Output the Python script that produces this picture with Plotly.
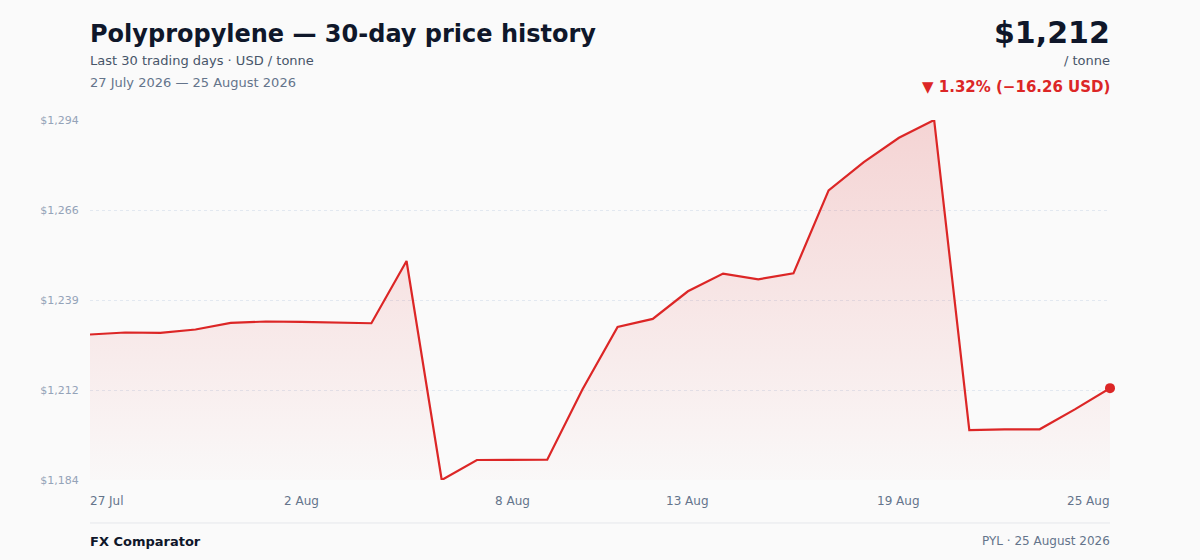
import pandas as pd
import plotly.graph_objects as go

# daily price, USD / tonne, 27 Jul 2026 .. 25 Aug 2026
dates = pd.date_range("2026-07-27", periods=30, freq="D")
prices = [
    1228.56, 1229.17, 1229.05, 1230.08, 1232.08, 1232.50, 1232.38, 1232.29, 1231.98, 1250.85,
    1184.45, 1190.51, 1190.55, 1190.60, 1211.91, 1230.86, 1233.29, 1241.67, 1247.03, 1245.31,
    1247.10, 1272.25, 1280.82, 1288.21, 1293.60, 1199.59, 1199.80, 1199.82, 1205.86, 1212.30,
]
tick_dates = ["2026-07-27", "2026-08-02", "2026-08-08", "2026-08-13", "2026-08-19", "2026-08-25"]
tick_labels = ["27 Jul", "2 Aug", "8 Aug", "13 Aug", "19 Aug", "25 Aug"]

RED = "#dc2626"
INK = "#0f172a"
SLATE = "#475569"
MUTED = "#64748b"
FONT = "DejaVu Sans"

W, H = 1200, 560
L, R, T, B = 90, 90, 120, 80

def px(x):
    return (x - L) / (W - L - R)

def py(y):
    return (H - B - y) / (H - T - B)

lo, hi = min(prices), max(prices)
n_ticks = 5
ytick_vals = [lo + (hi - lo) * i / (n_ticks - 1) for i in range(n_ticks)]
ytick_text = [f"${v:,.0f}" for v in ytick_vals]

first, last = prices[0], prices[-1]
change = last - first
pct = change / first * 100
arrow = "▼" if change < 0 else "▲"
sign = "\u2212" if change < 0 else "+"

fig = go.Figure()
fig.add_trace(go.Scatter(
    x=dates, y=prices, mode="lines",
    line=dict(color=RED, width=2.2),
    fill="tozeroy",
    fillgradient=dict(
        type="vertical",
        colorscale=[[0, "rgba(220,38,38,0.01)"], [1, "rgba(220,38,38,0.18)"]],
        start=lo, stop=hi,
    ),
    cliponaxis=False, hoverinfo="skip", showlegend=False,
))
fig.add_trace(go.Scatter(
    x=[dates[-1]], y=[last], mode="markers",
    marker=dict(color=RED, size=10),
    cliponaxis=False, hoverinfo="skip", showlegend=False,
))

notes = [
    dict(x=px(90), y=py(34), xanchor="left", text="<b>Polypropylene — 30-day price history</b>",
         font=dict(size=24, color=INK)),
    dict(x=px(90), y=py(61), xanchor="left", text="Last 30 trading days · USD / tonne",
         font=dict(size=13, color=SLATE)),
    dict(x=px(90), y=py(83), xanchor="left", text="27 July 2026 — 25 August 2026",
         font=dict(size=13, color=MUTED)),
    dict(x=px(1110), y=py(32), xanchor="right", text=f"<b>${last:,.0f}</b>",
         font=dict(size=30, color=INK)),
    dict(x=px(1110), y=py(61), xanchor="right", text="/ tonne",
         font=dict(size=13, color=SLATE)),
    dict(x=px(1110), y=py(87), xanchor="right",
         text=f"<b>{arrow} {abs(pct):.2f}% ({sign}{abs(change):.2f} USD)</b>",
         font=dict(size=15, color=RED)),
    dict(x=px(90), y=py(541), xanchor="left", text="<b>FX Comparator</b>",
         font=dict(size=13, color=INK)),
    dict(x=px(1110), y=py(541), xanchor="right", text="PYL · 25 August 2026",
         font=dict(size=12, color=MUTED)),
]
for a in notes:
    fig.add_annotation(xref="paper", yref="paper", yanchor="middle", showarrow=False,
                       borderpad=0, borderwidth=0, **a)

# x tick labels: ends pinned to the plot edges, the rest centred
for i, (d, lab) in enumerate(zip(tick_dates, tick_labels)):
    anchor = "left" if i == 0 else ("right" if i == len(tick_dates) - 1 else "center")
    fig.add_annotation(x=d, xref="x", y=py(501), yref="paper", xanchor=anchor, yanchor="middle",
                       text=lab, showarrow=False, borderpad=0, borderwidth=0,
                       font=dict(size=12, color=MUTED))

fig.add_shape(type="line", xref="paper", yref="paper", x0=0, x1=1, y0=py(523), y1=py(523),
              line=dict(color="#e5e7eb", width=1))

fig.update_layout(
    width=W, height=H,
    margin=dict(l=L, r=R, t=T, b=B),
    paper_bgcolor="#fafafa", plot_bgcolor="#fafafa",
    font=dict(family=FONT),
    xaxis=dict(range=[dates[0], dates[-1]], showgrid=False, zeroline=False,
               showticklabels=False, showline=False),
    yaxis=dict(range=[lo, hi], tickvals=ytick_vals, ticktext=ytick_text,
               showgrid=True, gridcolor="#e2e8f0", griddash="dot", gridwidth=1,
               zeroline=False, showline=False, ticks="outside", ticklen=8,
               tickcolor="rgba(0,0,0,0)", tickfont=dict(size=11, color="#94a3b8")),
)

fig.write_html("out.html", config={"displayModeBar": False},
               post_script="document.body.style.margin='0';document.body.style.background='#fafafa';")
